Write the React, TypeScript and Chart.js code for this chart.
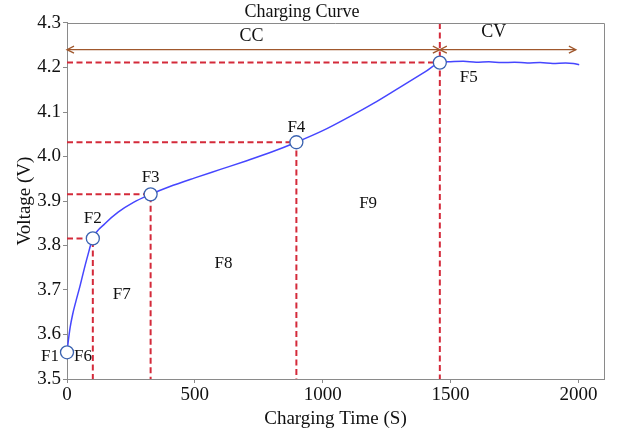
import React, { useEffect, useRef } from 'react';
import { Chart, registerables } from 'chart.js';

Chart.register(...registerables);

// Charging curve samples (time in s, voltage in V)
const timeS = [0, 5, 12, 22, 35, 50, 65, 80, 101, 150, 200, 260, 327, 400, 500, 600, 700, 800, 897, 1000, 1100, 1200, 1300, 1400, 1458, 1500, 1550, 1600, 1650, 1700, 1750, 1800, 1850, 1900, 1950, 1980, 2003];
const voltageV = [3.56, 3.585, 3.615, 3.645, 3.675, 3.707, 3.742, 3.775, 3.816, 3.85, 3.875, 3.897, 3.915, 3.932, 3.952, 3.971, 3.99, 4.01, 4.032, 4.058, 4.088, 4.12, 4.155, 4.19, 4.211, 4.213, 4.214, 4.212, 4.213, 4.211, 4.212, 4.21, 4.211, 4.209, 4.21, 4.209, 4.206];

// Feature points F1..F5
const featureNames = ['F1', 'F2', 'F3', 'F4', 'F5'];
const featureTimes = [0, 101, 327, 897, 1458];
const featureVolts = [3.56, 3.816, 3.915, 4.032, 4.211];

// Region labels F7..F9 (between feature times)
const regionNames = ['F7', 'F8', 'F9'];
const regionLabelVolts = [3.69, 3.76, 3.895];

// Phases
const phaseNames = ['CC', 'CV'];
const phaseArrowVolt = 4.24;
const cvEndTime = 1990;

// Axis ticks
const xTicks = [0, 500, 1000, 1500, 2000];
const yTicks = [3.5, 3.6, 3.7, 3.8, 3.9, 4.0, 4.1, 4.2, 4.3];

const X_MIN = 0;
const X_MAX = 2100;
const Y_MIN = 3.5;
const Y_MAX = 4.3;

const SERIF = '"Liberation Serif", "Times New Roman", serif';
const RED = '#d42a3a';
const BROWN = '#a0582d';
const AXIS = '#8a8a8a';

const annotationPlugin = {
  id: 'annot',
  afterDraw(chart: any) {
    const { ctx, chartArea, scales } = chart;
    const xs = scales.x;
    const ys = scales.y;
    ctx.save();
    // top/right frame
    ctx.strokeStyle = AXIS;
    ctx.lineWidth = 1;
    ctx.beginPath();
    ctx.moveTo(chartArea.left, chartArea.top + 0.5);
    ctx.lineTo(chartArea.right + 0.5, chartArea.top + 0.5);
    ctx.lineTo(chartArea.right + 0.5, chartArea.bottom);
    ctx.stroke();

    // phase arrows
    const ay = ys.getPixelForValue(phaseArrowVolt);
    const ccEnd = featureTimes[featureTimes.length - 1];
    const segs = [
      [xs.getPixelForValue(X_MIN), xs.getPixelForValue(ccEnd)],
      [xs.getPixelForValue(ccEnd), xs.getPixelForValue(cvEndTime)],
    ];
    ctx.strokeStyle = BROWN;
    ctx.lineWidth = 1.3;
    const head = 7;
    const hw = 3.5;
    segs.forEach(([a, b]) => {
      ctx.beginPath();
      ctx.moveTo(a, ay);
      ctx.lineTo(b, ay);
      ctx.stroke();
      ctx.beginPath();
      ctx.moveTo(a + head, ay - hw);
      ctx.lineTo(a, ay);
      ctx.lineTo(a + head, ay + hw);
      ctx.moveTo(b - head, ay - hw);
      ctx.lineTo(b, ay);
      ctx.lineTo(b - head, ay + hw);
      ctx.stroke();
    });

    ctx.fillStyle = '#111';
    ctx.font = `18px ${SERIF}`;
    ctx.textAlign = 'center';
    ctx.textBaseline = 'middle';
    const ccMid = (segs[0][0] + segs[0][1]) / 2;
    const cvMid = (segs[1][0] + segs[1][1]) / 2;
    ctx.fillText(phaseNames[0], ccMid - 2, ay - 13);
    ctx.fillText(phaseNames[1], cvMid - 14, ay - 17);

    // feature labels
    ctx.font = `17px ${SERIF}`;
    const offsets = [
      [-17, 4],
      [0, -20],
      [0, -17],
      [0, -15],
      [29, 15],
    ];
    featureNames.forEach((n, i) => {
      const px = xs.getPixelForValue(featureTimes[i]);
      const py = ys.getPixelForValue(featureVolts[i]);
      ctx.fillText(n, px + offsets[i][0], py + offsets[i][1]);
    });
    // F6 right of F1
    {
      const px = xs.getPixelForValue(featureTimes[0]);
      const py = ys.getPixelForValue(featureVolts[0]);
      ctx.fillText('F6', px + 16, py + 4);
    }
    regionNames.forEach((n, i) => {
      const t = (featureTimes[i + 1] + featureTimes[i + 2]) / 2;
      ctx.fillText(n, xs.getPixelForValue(t), ys.getPixelForValue(regionLabelVolts[i]));
    });
    ctx.restore();
  },
};

export default function App() {
  const ref = useRef<HTMLCanvasElement>(null);
  useEffect(() => {
    document.body.style.margin = '0';
    const canvas = ref.current!;
    const dashed: any[] = [];
    const last = featureTimes.length - 1;
    for (let i = 1; i <= last; i++) {
      const t = featureTimes[i];
      const v = featureVolts[i];
      dashed.push({
        type: 'line',
        data: i === last ? [{ x: X_MIN, y: v }, { x: t, y: v }] : [{ x: X_MIN, y: v }, { x: t, y: v }, { x: t, y: Y_MIN }],
        borderColor: RED,
        borderWidth: 2,
        borderDash: [6, 3.5],
        pointRadius: 0,
        tension: 0,
        order: 3,
      });
      if (i === last) {
        dashed.push({
          type: 'line',
          data: [{ x: t, y: Y_MAX }, { x: t, y: Y_MIN }],
          borderColor: RED,
          borderWidth: 2,
          borderDash: [6, 3.5],
          pointRadius: 0,
          order: 3,
        });
      }
    }
    const chart = new Chart(canvas, {
      type: 'line',
      data: {
        datasets: [
          {
            type: 'line',
            label: 'Feature points',
            data: featureTimes.map((t, i) => ({ x: t, y: featureVolts[i] })),
            showLine: false,
            pointRadius: 6.5,
            pointBackgroundColor: '#ffffff',
            pointBorderColor: '#3a62b0',
            pointBorderWidth: 1.3,
            clip: false as any,
            order: 0,
          },
          {
            type: 'line',
            label: 'Voltage',
            data: timeS.map((t, i) => ({ x: t, y: voltageV[i] })),
            borderColor: '#4646ff',
            borderWidth: 1.5,
            pointRadius: 0,
            cubicInterpolationMode: 'monotone',
            order: 1,
          },
          ...dashed,
        ],
      },
      options: {
        animation: false,
        responsive: false,
        layout: { padding: { left: 0, right: 15, top: 0, bottom: 0 } },
        plugins: {
          legend: { display: false },
          tooltip: { enabled: false },
          title: {
            display: true,
            text: 'Charging Curve',
            color: '#111',
            font: { family: SERIF, size: 18, weight: 'normal' },
            padding: { top: 1, bottom: 0.4 },
          },
        },
        scales: {
          x: {
            type: 'linear',
            min: X_MIN,
            max: X_MAX,
            afterBuildTicks: (s: any) => {
              s.ticks = xTicks.map((v) => ({ value: v }));
            },
            ticks: {
              color: '#111',
              font: { family: SERIF, size: 19 },
              padding: 1,
              maxRotation: 0,
              callback: (v: any) => String(v),
            },
            grid: { display: true, drawOnChartArea: false, drawTicks: true, tickLength: 4, color: AXIS },
            border: { display: true, color: AXIS, width: 1 },
            title: {
              display: true,
              text: 'Charging Time (S)',
              color: '#111',
              font: { family: SERIF, size: 19 },
              padding: { top: 6.6, bottom: 0 },
            },
            afterFit: (s: any) => {
              s.height = 51;
            },
          },
          y: {
            type: 'linear',
            min: Y_MIN,
            max: Y_MAX,
            afterBuildTicks: (s: any) => {
              s.ticks = yTicks.map((v) => ({ value: v }));
            },
            ticks: {
              color: '#111',
              font: { family: SERIF, size: 19 },
              padding: 2,
              callback: (v: any) => Number(v).toFixed(1),
            },
            grid: { display: true, drawOnChartArea: false, drawTicks: true, tickLength: 4, color: AXIS },
            border: { display: true, color: AXIS, width: 1 },
            title: {
              display: true,
              text: 'Voltage (V)',
              color: '#111',
              font: { family: SERIF, size: 19 },
              padding: { top: 13.6, bottom: 0 },
            },
            afterFit: (s: any) => {
              s.width = 67;
            },
          },
        },
      } as any,
      plugins: [annotationPlugin],
    });
    return () => chart.destroy();
  }, []);
  return (
    <div style={{ width: 619, height: 430 }}>
      <canvas ref={ref} width={619} height={430} />
    </div>
  );
}
